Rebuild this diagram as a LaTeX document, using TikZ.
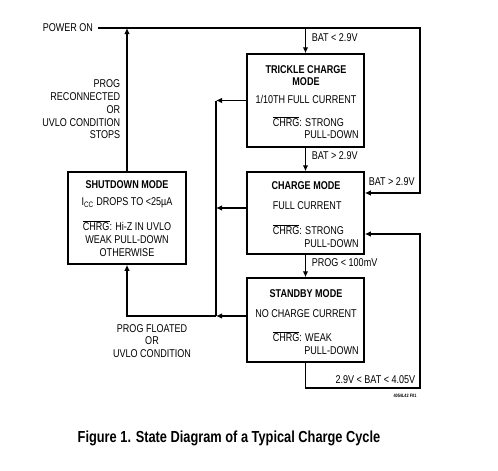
\documentclass[tikz,border=0pt]{standalone}
\usepackage{fontspec}
\setmainfont[FakeStretch=0.8]{Liberation Sans}
\usetikzlibrary{arrows.meta}
\newcommand{\chrgbar}{$\overline{\mbox{CHRG}}$}
\begin{document}
\begin{tikzpicture}[x=1pt,y=-1pt,line width=1.5pt,>={Latex[length=6pt,width=5.5pt]},
  every node/.style={font=\fontsize{11.3}{12.7}\selectfont,inner sep=0pt},
  modebox/.style={draw,minimum width=117pt},
  modetitle/.style={font=\fontsize{11.3}{12.7}\selectfont\bfseries,align=center}]
  \useasboundingbox (0,0) rectangle (498,471);
  % states
  \node[modebox,minimum height=93pt] (trk) at (305.5,100.5) {};
  \node[modebox,minimum height=82pt] (chg) at (305.5,213) {};
  \node[modebox,minimum height=84pt] (sby) at (305.5,320) {};
  \node[modebox,minimum width=118pt,minimum height=92pt] (sd) at (127,218) {};
  \node[modetitle] (trkt) at (306,75.5) {TRICKLE CHARGE\\MODE};
  \node (trki) at (306,99) {1/10TH FULL CURRENT};
  \node[anchor=west,align=left] (trkc) at (272,127.5) {\chrgbar: STRONG\\\phantom{CHRG: }PULL-DOWN};
  \node[modetitle] (chgt) at (306,186) {CHARGE MODE};
  \node[anchor=west] (chgi) at (272,206) {FULL CURRENT};
  \node[anchor=west,align=left] (chgc) at (272,236) {\chrgbar: STRONG\\\phantom{CHRG: }PULL-DOWN};
  \node[modetitle] (sbyt) at (306,294) {STANDBY MODE};
  \node (sbyi) at (306,314) {NO CHARGE CURRENT};
  \node[anchor=west,align=left] (sbyc) at (272,343) {\chrgbar: WEAK\\\phantom{CHRG: }PULL-DOWN};
  \node[modetitle] (sdt) at (127,185) {SHUTDOWN MODE};
  \node (sdi) at (127,203) {I\textsubscript{CC} DROPS TO <25µA};
  \node[align=center] (sdc) at (127,238.5) {\chrgbar: Hi-Z IN UVLO\\WEAK PULL-DOWN\\OTHERWISE};
  % inputs and labels
  \node[anchor=west] (pwr) at (42,28) {POWER ON};
  \node[anchor=east,align=right] (lrec) at (121,109.5) {PROG\\RECONNECTED\\OR\\UVLO CONDITION\\STOPS};
  \node[align=center] (lflt) at (152,341) {PROG FLOATED\\OR\\UVLO CONDITION};
  \node[anchor=west] (l1) at (311,38) {BAT < 2.9V};
  \node[anchor=west] (l2) at (311,156) {BAT > 2.9V};
  \node[anchor=west] (l3) at (368,182) {BAT > 2.9V};
  \node[anchor=west] (l4) at (311,263) {PROG < 100mV};
  \node[anchor=east] (l5) at (416,380) {2.9V < BAT < 4.05V};
  \node[font=\fontsize{4.8}{5}\selectfont\bfseries] (fno) at (405,396) {4054L42 F01};
  \node[font=\fontsize{16}{18}\selectfont\bfseries] (cap) at (229,438) {Figure 1. State Diagram of a Typical Charge Cycle};
  \coordinate (pr) at (420,28);
  \coordinate (lp) at (420,388);
  \coordinate (bus) at (216,100);
  % transitions
  \draw[->] (pwr.east) ++(4pt,0) -- (pr) |- ([yshift=20pt]chg.east);
  \draw[->] (trk.north |- pwr.east) -- (trk.north);
  \draw[->] (trk.south) -- (chg.north);
  \draw[->] (chg.south) -- (sby.north);
  \draw[->] (sby.south) |- (lp) |- ([yshift=-21pt]chg.east);
  \draw[->] (trk.west) -- (trk.west -| bus);
  \draw[->] ([yshift=5pt]chg.west) -- ([yshift=5pt]chg.west -| bus);
  \draw[->] ([yshift=4pt]sby.west) -- ([yshift=4pt]sby.west -| bus);
  \draw (trk.west -| bus) -- ([yshift=4pt]sby.west -| bus);
  \draw[->] ([yshift=4pt]sby.west -| bus) -| (sd.south);
  \draw[->] (sd.north) -- (sd.north |- pwr.east);
\end{tikzpicture}
\end{document}
